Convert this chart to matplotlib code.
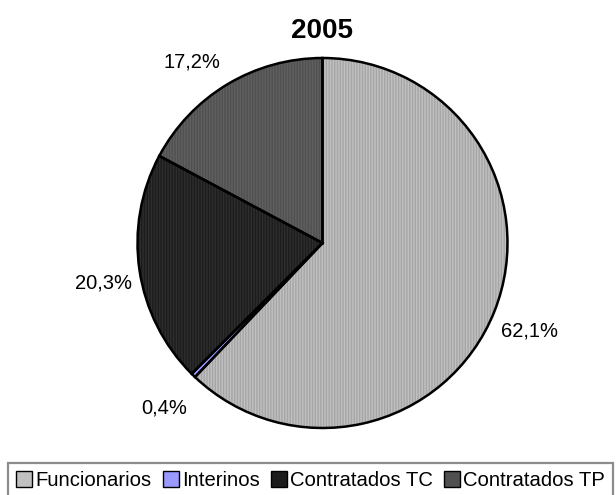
import matplotlib.pyplot as plt
import matplotlib as mpl

mpl.rcParams['font.family'] = ['Liberation Sans', 'DejaVu Sans']

categories = ['Funcionarios', 'Interinos', 'Contratados TC', 'Contratados TP']
values = [62.1, 0.4, 20.3, 17.2]
pct_labels = ['62,1%', '0,4%', '20,3%', '17,2%']
colors = ['#c0c0c0', '#9999ff', '#1c1c1c', '#505050']
hatch_colors = ['#a6a6a6', '#9999ff', '#2e2e2e', '#606060']

fig = plt.figure(figsize=(6.16, 4.95), dpi=100)
# pie centre ~ (322, 243) px, radius ~ 185 px
r_px = 185
cx, cy = 322.5, 495 - 243
ax = fig.add_axes([(cx - r_px) / 616, (cy - r_px) / 495, 2 * r_px / 616, 2 * r_px / 495])

# fill with fine vertical texture
wedges, _ = ax.pie(values, colors=colors, startangle=90, counterclock=False,
                   wedgeprops={'linewidth': 0})
for w, hc in zip(wedges, hatch_colors):
    w.set_hatch('||||||')
    w.set_edgecolor(hc)
    w.set_linewidth(0)

# black outlines on top
ax.pie(values, colors=['none'] * 4, startangle=90, counterclock=False,
       wedgeprops={'linewidth': 1.8, 'edgecolor': 'black', 'fill': False})

# outside labels (positions tuned by eye, in axes data units)
label_pos = [(1.119, -0.476), (-0.854, -0.892), (-1.184, -0.216), (-0.708, 0.978)]
for txt, (x, y) in zip(pct_labels, label_pos):
    ax.text(x, y, txt, ha='center', va='center', fontsize=14.5)

ax.set_xlim(-1, 1)
ax.set_ylim(-1, 1)

fig.text(0.523, 1 - 31 / 495, '2005', ha='center', va='center',
         fontsize=20, fontweight='bold')

# legend box runs off the bottom edge like in the original export
handles = [mpl.patches.Patch(facecolor=c, edgecolor='black', linewidth=1.0) for c in colors]
leg = fig.legend(handles, categories, loc='upper left', ncol=4,
                 bbox_to_anchor=(8 / 616, 1 - 463 / 495), fontsize=14.6, frameon=True,
                 fancybox=False, edgecolor='#707070', handlelength=0.8,
                 handleheight=0.8, handletextpad=0.15, columnspacing=0.55,
                 borderpad=0.4, borderaxespad=0.0)
leg.get_frame().set_linewidth(1.6)

fig.savefig('out.png', dpi=100)
